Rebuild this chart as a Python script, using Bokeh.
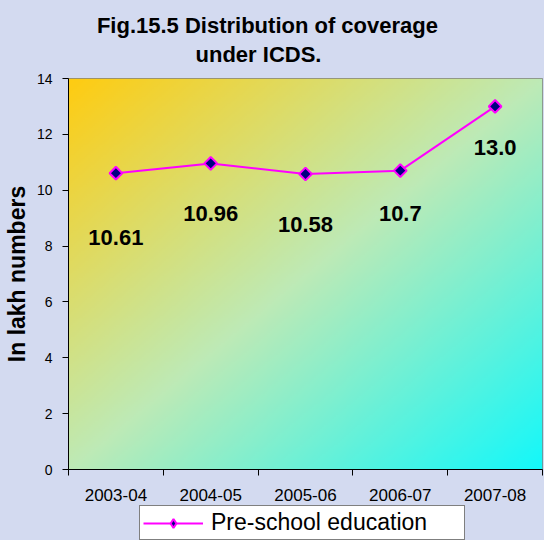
import numpy as np
from bokeh.plotting import figure
from bokeh.layouts import column
from bokeh.models import Range1d, FixedTicker, Legend, LegendItem, Label
from bokeh.core.properties import value
from bokeh.embed import file_html
from bokeh.resources import INLINE

# ---- data ----
years = ["2003-04", "2004-05", "2005-06", "2006-07", "2007-08"]
preschool = [10.61, 10.96, 10.58, 10.7, 13.0]
value_labels = ["10.61", "10.96", "10.58", "10.7", "13.0"]
y_ticks = [0, 2, 4, 6, 8, 10, 12, 14]
y_max = 14
series_name = "Pre-school education"
title_lines = ["Fig.15.5  Distribution of coverage", "under ICDS."]
y_title = "In lakh numbers"

# label pixel offsets below each point (layout only)
label_dy = [64, 50, 50, 43, 41]

FONT = "Liberation Sans"
BG = "#D3DAF0"
LINE_C = "#FF00FF"
MARK_FILL = "#000080"
W = 544
n = len(years)
xs = [i + 0.5 for i in range(n)]

# ---- title strip ----
tf = figure(width=W, height=70, output_backend="svg", toolbar_location=None,
            x_range=Range1d(0, 1), y_range=Range1d(0, 1),
            x_axis_type=None, y_axis_type=None,
            min_border_left=66, min_border_right=2, min_border_top=0, min_border_bottom=0)
tf.border_fill_color = BG
tf.background_fill_color = None
tf.outline_line_color = None
tf.grid.visible = False
for txt, (lx, ly) in zip(title_lines, [(202, 45), (190, 16)]):
    tf.add_layout(Label(x=lx, y=ly, x_units="screen", y_units="screen", text=txt,
                        text_align="center", text_baseline="middle",
                        text_font=FONT, text_font_style="bold", text_font_size="22px",
                        text_color="black"))

# ---- main chart ----
p = figure(width=W, height=433, output_backend="svg", toolbar_location=None,
           x_range=Range1d(0, n), y_range=Range1d(0, y_max),
           min_border_left=66, min_border_right=2, min_border_top=8,
           min_border_bottom=33)
p.border_fill_color = BG
p.outline_line_color = "#808080"
p.outline_line_width = 1

# gradient plot-area background
nx, ny = 240, 200
gx = np.linspace(0, 1, nx)[None, :]
gy = np.linspace(0, 1, ny)[:, None]
t = (gx + (1 - gy)) / 2
stops = [0.0, 0.5, 1.0]
cols = np.array([[255, 204, 17], [190, 234, 182], [20, 248, 250]], dtype=float)
img = np.empty((ny, nx), dtype=np.uint32)
view = img.view(dtype=np.uint8).reshape((ny, nx, 4))
for c in range(3):
    view[..., c] = np.interp(t, stops, cols[:, c]).astype(np.uint8)
view[..., 3] = 255
p.image_rgba(image=[img], x=0, y=0, dw=n, dh=y_max)

p.line(xs, preschool, line_color=LINE_C, line_width=2)
p.scatter(xs, preschool, marker="square", angle=np.pi / 4, size=9,
          fill_color=MARK_FILL, line_color=LINE_C, line_width=2)

p.text(x=xs, y=preschool, text=value_labels, y_offset=label_dy,
       text_align="center", text_baseline="middle", text_color="black",
       text_font=value(FONT), text_font_style="bold", text_font_size="22px")

p.grid.visible = False
p.xaxis.ticker = FixedTicker(ticks=xs, minor_ticks=list(range(n + 1)))
p.xaxis.major_label_overrides = {x: yl for x, yl in zip(xs, years)}
p.xaxis.major_tick_line_color = None
p.xaxis.major_tick_out = 0
p.xaxis.major_tick_in = 0
p.xaxis.minor_tick_out = 6
p.xaxis.minor_tick_in = 0
p.xaxis.minor_tick_line_color = "black"
p.xaxis.major_label_standoff = 13
p.xaxis.major_label_text_font = FONT
p.xaxis.major_label_text_font_size = "17px"
p.xaxis.major_label_text_color = "black"
p.xaxis.axis_line_color = "black"

p.yaxis.ticker = FixedTicker(ticks=y_ticks, minor_ticks=[])
p.yaxis.major_tick_out = 6
p.yaxis.major_tick_in = 0
p.yaxis.major_tick_line_color = "black"
p.yaxis.major_label_standoff = 10
p.yaxis.major_label_text_font = FONT
p.yaxis.major_label_text_font_size = "14px"
p.yaxis.major_label_text_color = "black"
p.yaxis.axis_line_color = "black"
p.yaxis.axis_label = y_title
p.yaxis.axis_label_text_font = FONT
p.yaxis.axis_label_text_font_style = "bold"
p.yaxis.axis_label_text_font_size = "23px"
p.yaxis.axis_label_text_color = "black"
p.yaxis.axis_label_standoff = 4

# ---- legend strip (series renderers sit outside its view) ----
lf = figure(width=W, height=37, output_backend="svg", toolbar_location=None,
            x_range=Range1d(-100, -99), y_range=Range1d(-100, -99),
            x_axis_type=None, y_axis_type=None,
            min_border_left=66, min_border_right=2, min_border_top=0, min_border_bottom=0)
lf.border_fill_color = BG
lf.background_fill_color = None
lf.outline_line_color = None
lf.grid.visible = False
lg_line = lf.line(xs, preschool, line_color=LINE_C, line_width=2)
lg_mark = lf.scatter(xs, preschool, marker="diamond", size=14,
                     fill_color=MARK_FILL, line_color=LINE_C, line_width=2)
legend = Legend(items=[LegendItem(label=series_name, renderers=[lg_line, lg_mark])],
                location=(71, 0), orientation="horizontal",
                border_line_color="black", border_line_width=1,
                background_fill_color="white", background_fill_alpha=1,
                label_text_font=FONT, label_text_font_size="23px", label_text_color="black",
                glyph_width=60, glyph_height=22, padding=3, label_standoff=8,
                label_width=250, margin=0)
lf.add_layout(legend)

layout = column(tf, p, lf, spacing=0)
layout.styles = {"box-shadow": "-1px -1px 0 0 #000000", "background-color": BG}
open("out.html", "w").write(file_html(layout, INLINE))
